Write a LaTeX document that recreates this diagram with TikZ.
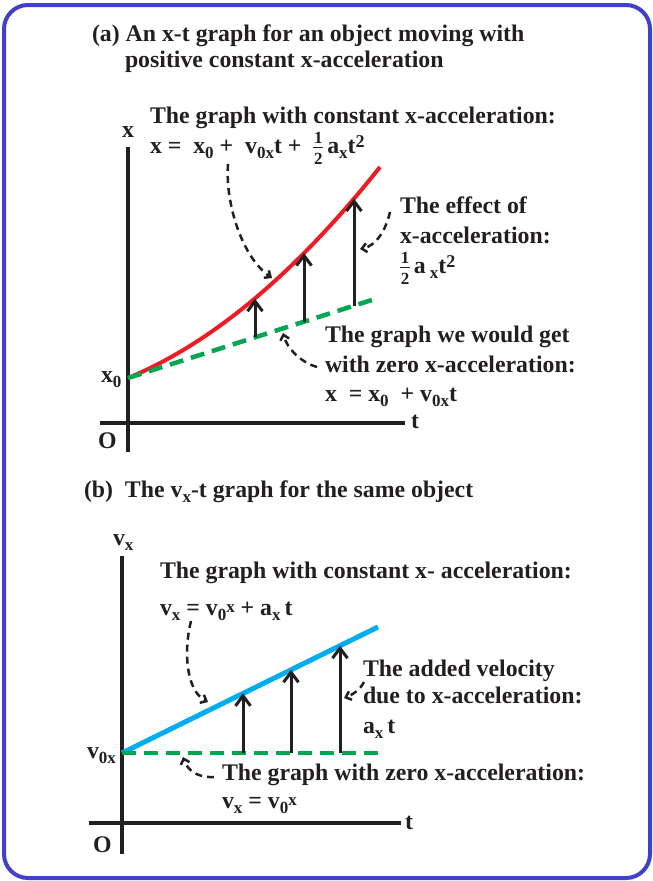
\documentclass[tikz,border=0pt]{standalone}
\usepackage{fontspec}
\setmainfont{Liberation Serif}
\usetikzlibrary{arrows.meta}
\definecolor{bordc}{RGB}{64,64,200}
\definecolor{redc}{RGB}{237,28,36}
\definecolor{grnc}{RGB}{0,166,81}
\definecolor{bluc}{RGB}{0,174,239}
\definecolor{txtc}{RGB}{35,31,32}
\newcommand{\sbx}[1]{\raisebox{-0.22em}{\fontsize{17}{17}\selectfont #1}}
\newcommand{\spx}[1]{\raisebox{0.25em}{\fontsize{18}{18}\selectfont #1}}
\newcommand{\hlf}{\raisebox{-11pt}{\fontsize{17}{17}\selectfont\vbox{\offinterlineskip\halign{\hfil##\hfil\cr 1\cr\noalign{\kern3.5pt}\rule{10pt}{1.5pt}\cr\noalign{\kern4.5pt}2\cr}}}}
\newcommand{\zx}{\sbx{0}\raisebox{0.12em}{\fontsize{17}{17}\selectfont x}}
\begin{document}
\begin{tikzpicture}[x=1pt,y=-1pt,
  font=\fontsize{23.8}{28}\selectfont\bfseries, text=txtc,
  every node/.style={inner sep=0pt, outer sep=0pt},
  lbl/.style={anchor=base west},
  axisln/.style={line width=3.8pt, draw=txtc},
  vecarr/.style={line width=3pt, draw=txtc, -{Straight Barb[length=10pt,width=15pt]}},
  pointer/.style={line width=2.5pt, draw=txtc, dash pattern=on 7pt off 5pt, -{Straight Barb[length=5pt,width=9pt]}}]
\useasboundingbox (0,0) rectangle (653,881);
\draw[bordc, line width=4pt, rounded corners=24pt] (4,5) rectangle (650,878);

% ---------- panel (a) ----------
\node[lbl] (ta1) at (92,41) {(a) An x-t graph for an object moving with};
\node[lbl] (ta2) at (125,67) {positive constant x-acceleration};

\coordinate (ay0) at (128,452);
\coordinate (ay1) at (128,147);
\coordinate (ax0) at (100,423);
\coordinate (ax1) at (405,423);
\draw[axisln] (ay0) -- (ay1);
\draw[axisln] (ax0) -- (ax1);
\node[anchor=base] (lx) at (128,137) {x};
\node[lbl] (lt) at (411,428) {t};
\node[lbl] (lo) at (98,448) {O};
\node[lbl] (lx0) at (101,382) {x\sbx{0}};

\draw[redc, line width=4pt] plot[domain=0:252, samples=60, smooth] ({128+\x},{378-0.414*\x-16.8*(\x/100)^2});
\coordinate (g0) at (128,378);
\coordinate (g1) at (378,298);
\draw[grnc, line width=4.5pt, dash pattern=on 14pt off 8pt] (g0) -- (g1);

\coordinate (a1b) at (255,337.2);
\coordinate (a1t) at (255,298.7);
\coordinate (a2b) at (304,321.7);
\coordinate (a2t) at (304,253.1);
\coordinate (a3b) at (354,305.7);
\coordinate (a3t) at (354,198.6);
\draw[vecarr] (a1b) -- (a1t);
\draw[vecarr] (a2b) -- (a2t);
\draw[vecarr] (a3b) -- (a3t);

\node[lbl] (c1) at (150,123) {The graph with constant x-acceleration:};
\node[lbl] (c2) at (150,153) {x =\ \ x\sbx{0} +\ \ v\sbx{0x}t +\ \ \hlf\,a\sbx{x}t\spx{2}};
\node[lbl] (e1) at (400,213) {The effect of};
\node[lbl] (e2) at (400,243) {x-acceleration:};
\node[lbl] (e3) at (400,273) {\hlf\,a\,\sbx{x}t\spx{2}};
\node[lbl] (z1) at (325,342) {The graph we would get};
\node[lbl] (z2) at (325,372) {with zero x-acceleration:};
\node[lbl] (z3) at (325,401) {x\ \ = x\sbx{0}\ \ + v\sbx{0x}t};

\coordinate (p1s) at (228,164);
\coordinate (p1e) at (272,278);
\draw[pointer] (p1s) .. controls (225,205) and (243,258) .. (p1e);
\coordinate (p2s) at (390,212);
\coordinate (p2e) at (360,249);
\draw[pointer] (p2s) .. controls (386,230) and (376,246) .. (p2e);
\coordinate (p3s) at (317,367);
\coordinate (p3e) at (283,333);
\draw[pointer] (p3s) .. controls (300,362) and (287,348) .. (p3e);

% ---------- panel (b) ----------
\node[lbl] (tb) at (84,497) {(b)\ \ The v\sbx{x}-t graph for the same object};
\coordinate (by0) at (122,854);
\coordinate (by1) at (122,556);
\coordinate (bx0) at (89,823);
\coordinate (bx1) at (401,823);
\draw[axisln] (by0) -- (by1);
\draw[axisln] (bx0) -- (bx1);
\node[lbl] (lvx) at (113,545) {v\sbx{x}};
\node[lbl] (lt2) at (405,829) {t};
\node[lbl] (lo2) at (93,852) {O};
\node[lbl] (lv0) at (87,758) {v\sbx{0x}};

\coordinate (b0) at (122,753);
\coordinate (b1) at (378,627);
\coordinate (q1) at (383,753);
\draw[bluc, line width=5pt] (b0) -- (b1);
\draw[grnc, line width=4.5pt, dash pattern=on 14pt off 8pt] (b0) -- (q1);
\coordinate (v1b) at (243,753);
\coordinate (v1t) at (243,693.4);
\coordinate (v2b) at (291,753);
\coordinate (v2t) at (291,669.8);
\coordinate (v3b) at (340,753);
\coordinate (v3t) at (340,645.7);
\draw[vecarr] (v1b) -- (v1t);
\draw[vecarr] (v2b) -- (v2t);
\draw[vecarr] (v3b) -- (v3t);

\node[lbl] (d1) at (160,578) {The graph with constant x- acceleration:};
\node[lbl] (d2) at (160,615) {v\sbx{x} = v\zx{} + a\sbx{x}\,t};
\node[lbl] (f1) at (363,676) {The added velocity};
\node[lbl] (f2) at (363,703) {due to x-acceleration:};
\node[lbl] (f3) at (363,733) {a\sbx{x}\,t};
\node[lbl] (h1) at (222,780) {The graph with zero x-acceleration:};
\node[lbl] (h2) at (222,808) {v\sbx{x} = v\zx};

\coordinate (r1s) at (191,621);
\coordinate (r1e) at (208,702);
\draw[pointer] (r1s) .. controls (184,648) and (185,690) .. (r1e);
\coordinate (r2s) at (364,682);
\coordinate (r2e) at (344,698);
\draw[pointer] (r2s) .. controls (360,690) and (352,695) .. (r2e);
\coordinate (r3s) at (214,777);
\coordinate (r3e) at (183,757);
\draw[pointer] (r3s) .. controls (196,778) and (187,769) .. (r3e);
\end{tikzpicture}
\end{document}
